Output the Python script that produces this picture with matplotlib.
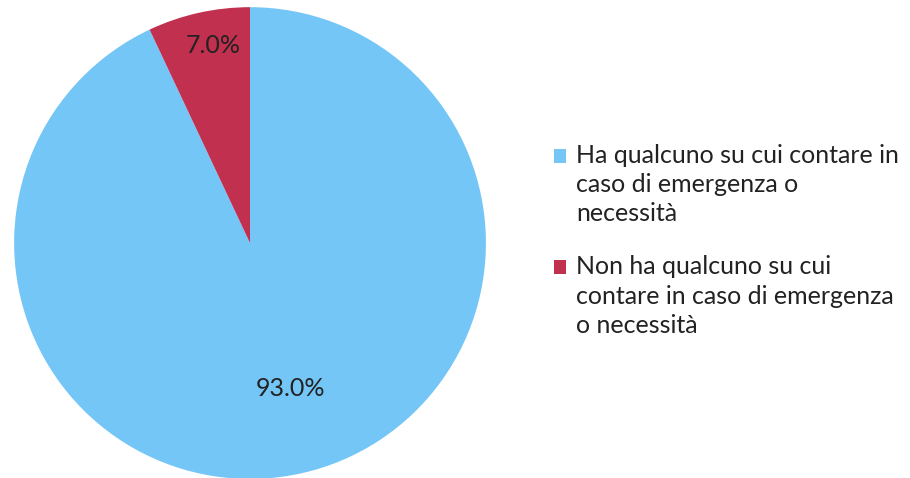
import numpy as np
import matplotlib
matplotlib.use("Agg")
import matplotlib.pyplot as plt

# ---- Data ---- #
labels = ["Ha qualcuno su cui contare in\ncaso di emergenza o\nnecessità",
          "Non ha qualcuno su cui\ncontare in caso di emergenza\no necessità"]
values = [93.0, 7.0]
colors = ["#74C6F7", "#C1304F"]
label_radius = [0.64, 0.85]
label_turn = [2.8, -2.0]   # degrees, small nudge of the % labels

plt.rcParams["font.family"] = ["Lato", "DejaVu Sans"]
fs = 18
linesp = 1.32

fig = plt.figure(figsize=(9.1, 4.78), dpi=100)
ax = fig.add_axes([0.0154, -0.002, 0.5187, 0.987])

wedges, texts, autotexts = ax.pie(values, colors=colors, startangle=90,
                                  counterclock=False, radius=1,
                                  autopct="%.1f%%",
                                  textprops=dict(fontsize=18, color="#222222"))

# move percent labels along each wedge's mid angle
for w, t, r, d in zip(wedges, autotexts, label_radius, label_turn):
    ang = np.deg2rad((w.theta1 + w.theta2) / 2 + d)
    t.set_position((r * np.cos(ang), r * np.sin(ang)))

ax.set_xlim(-1, 1)
ax.set_ylim(-1, 1)
ax.set_aspect("equal")

leg = fig.legend(wedges, labels, loc="center left",
                 bbox_to_anchor=(0.584, 0.497), frameon=False,
                 fontsize=fs, handlelength=0.48, handleheight=0.48,
                 handletextpad=0.4, labelspacing=1.2)
for t in leg.get_texts():
    t.set_color("#222222")
    t.set_linespacing(linesp)

# put the square next to the first line instead of the middle one
for h in leg.legend_handles:
    h.set_y(h.get_y() + 21.5)

fig.savefig("out.png", dpi=100)
